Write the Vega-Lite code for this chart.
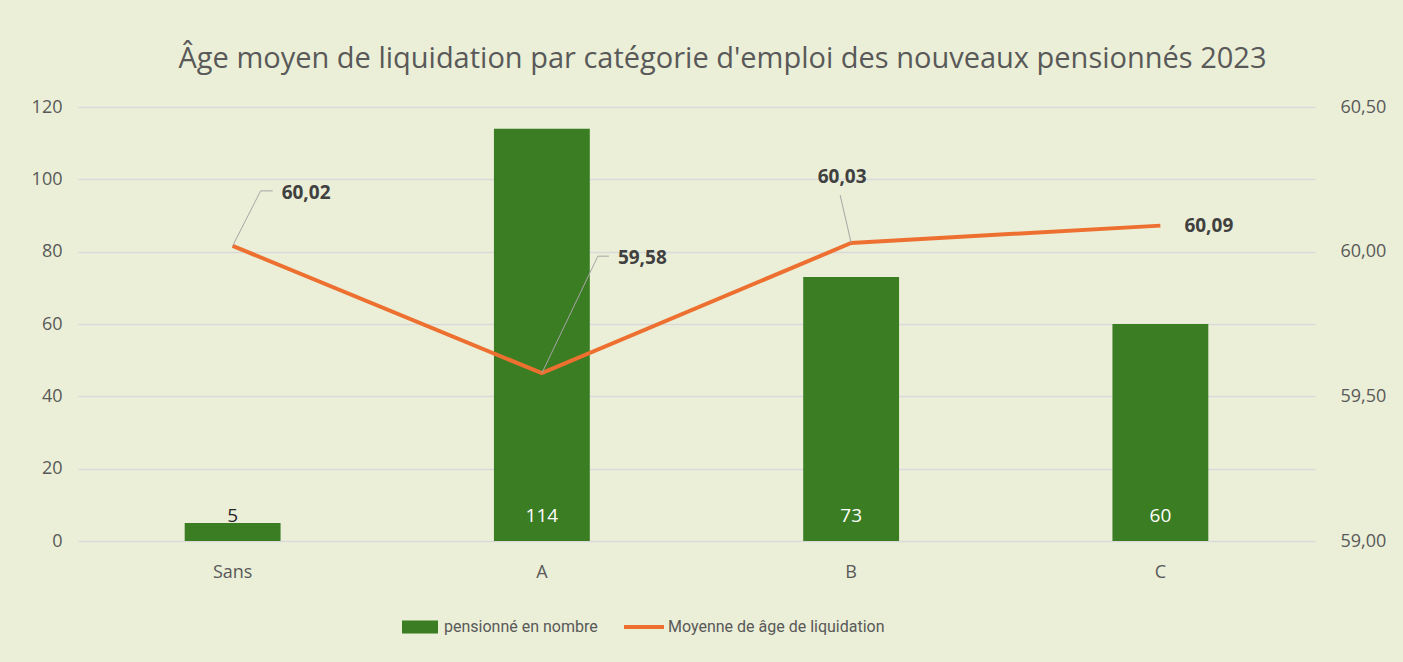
{
  "$schema": "https://vega.github.io/schema/vega-lite/v6.json",
  "width": 1237,
  "height": 434,
  "autosize": "none",
  "padding": {"left": 78, "top": 107, "right": 88, "bottom": 121},
  "background": "#ebefd7",
  "config": {
    "view": {"stroke": null},
    "font": "Open Sans",
    "locale": {"number": {"decimal": ",", "thousands": " ", "grouping": [3], "currency": ["", " €"]}}
  },
  "title": {
    "text": "Âge moyen de liquidation par catégorie d'emploi des nouveaux pensionnés 2023",
    "fontSize": 29,
    "font": "Open Sans",
    "fontWeight": "normal",
    "color": "#595959",
    "offset": 24,
    "dx": 26
  },
  "data": {
    "values": [
      {"cat": "Sans", "n": 5, "age": 60.02},
      {"cat": "A", "n": 114, "age": 59.58},
      {"cat": "B", "n": 73, "age": 60.03},
      {"cat": "C", "n": 60, "age": 60.09}
    ]
  },
  "encoding": {
    "x": {
      "field": "cat",
      "type": "nominal",
      "sort": ["Sans", "A", "B", "C"],
      "scale": {"paddingInner": 0.69, "paddingOuter": 0.345},
      "axis": {
        "title": null,
        "labelAngle": 0,
        "domain": false,
        "ticks": false,
        "labelPadding": 22,
        "labelFontSize": 18,
        "labelColor": "#595959",
        "labelFont": "Open Sans"
      }
    }
  },
  "layer": [
    {
      "layer": [
        {
          "mark": {"type": "bar"},
          "encoding": {
            "y": {
              "field": "n",
              "type": "quantitative",
              "scale": {"domain": [0, 120], "nice": false},
              "axis": {
                "title": null,
                "values": [0, 20, 40, 60, 80, 100, 120],
                "domain": false,
                "ticks": false,
                "labelPadding": 16,
                "labelFontSize": 18,
                "labelColor": "#595959",
                "gridColor": "#d9d9d9",
                "gridWidth": 1.5
              }
            },
            "color": {
              "datum": "pensionné en nombre",
              "type": "nominal",
              "scale": {
                "domain": ["pensionné en nombre", "Moyenne de âge de liquidation"],
                "range": ["#3b7d23", "#ed7031"]
              },
              "legend": {
                "title": null,
                "orient": "none",
                "legendX": 322,
                "legendY": 500,
                "direction": "horizontal",
                "labelFontSize": 16,
                "labelColor": "#595959",
                "labelFont": "'Liberation Sans Narrow', Roboto",
                "labelOffset": 4,
                "labelLimit": 0,
                "columnPadding": 26,
                "symbolSize": 1600,
                "encode": {
                  "symbols": {
                    "update": {
                      "shape": {"signal": "datum.value === 'pensionné en nombre' ? 'M-0.9,-0.33H0.9V0.33H-0.9Z' : 'M-1,-0.1H1V0.1H-1Z'"},
                      "fill": {"signal": "datum.value === 'pensionné en nombre' ? '#3b7d23' : '#ed7031'"},
                      "stroke": {"value": "transparent"},
                      "strokeWidth": {"value": 0},
                      "opacity": {"value": 1},
                      "fillOpacity": {"value": 1}
                    }
                  }
                }
              }
            }
          }
        },
        {
          "mark": {"type": "text", "fontSize": 19, "baseline": "middle", "dy": -25},
          "encoding": {
            "y": {"datum": 0, "type": "quantitative"},
            "text": {"field": "n", "type": "quantitative"},
            "color": {
              "condition": {"test": "datum.n > 10", "value": "#ffffff"},
              "value": "#262626"
            }
          }
        }
      ]
    },
    {
      "layer": [
        {
          "mark": {"type": "line", "strokeWidth": 4, "color": "#ed7031"},
          "encoding": {
            "y": {
              "field": "age",
              "type": "quantitative",
              "scale": {"domain": [59, 60.5], "zero": false, "nice": false},
              "axis": {
                "title": null,
                "orient": "right",
                "values": [59, 59.5, 60, 60.5],
                "format": ".2f",
                "grid": false,
                "domain": false,
                "ticks": false,
                "labelPadding": 25,
                "labelFontSize": 18,
                "labelColor": "#595959"
              }
            },
            "color": {"datum": "Moyenne de âge de liquidation", "type": "nominal"}
          }
        },
        {
          "transform": [{"filter": "datum.cat === 'Sans'"}],
          "mark": {"type": "rule", "color": "#a6a6a6", "strokeWidth": 1, "x2Offset": 28, "y2Offset": -55},
          "encoding": {
            "y": {"field": "age", "type": "quantitative"},
            "x2": {"field": "cat"},
            "y2": {"field": "age"}
          }
        },
        {
          "transform": [{"filter": "datum.cat === 'Sans'"}],
          "mark": {"type": "rule", "color": "#a6a6a6", "strokeWidth": 1, "xOffset": 28, "yOffset": -55, "x2Offset": 40, "y2Offset": -55},
          "encoding": {
            "y": {"field": "age", "type": "quantitative"},
            "x2": {"field": "cat"},
            "y2": {"field": "age"}
          }
        },
        {
          "transform": [{"filter": "datum.cat === 'A'"}],
          "mark": {"type": "rule", "color": "#a6a6a6", "strokeWidth": 1, "x2Offset": 56, "y2Offset": -117},
          "encoding": {
            "y": {"field": "age", "type": "quantitative"},
            "x2": {"field": "cat"},
            "y2": {"field": "age"}
          }
        },
        {
          "transform": [{"filter": "datum.cat === 'A'"}],
          "mark": {"type": "rule", "color": "#a6a6a6", "strokeWidth": 1, "xOffset": 56, "yOffset": -117, "x2Offset": 67, "y2Offset": -117},
          "encoding": {
            "y": {"field": "age", "type": "quantitative"},
            "x2": {"field": "cat"},
            "y2": {"field": "age"}
          }
        },
        {
          "transform": [{"filter": "datum.cat === 'B'"}],
          "mark": {"type": "rule", "color": "#a6a6a6", "strokeWidth": 1, "x2Offset": -11, "y2Offset": -48},
          "encoding": {
            "y": {"field": "age", "type": "quantitative"},
            "x2": {"field": "cat"},
            "y2": {"field": "age"}
          }
        },
        {
          "transform": [{"filter": "datum.cat === 'Sans'"}],
          "mark": {"type": "text", "fontSize": 19, "fontWeight": "bold", "color": "#404040", "align": "left", "baseline": "middle", "dx": 49, "dy": -53},
          "encoding": {
            "y": {"field": "age", "type": "quantitative"},
            "text": {"field": "age", "type": "quantitative", "format": ".2f"}
          }
        },
        {
          "transform": [{"filter": "datum.cat === 'A'"}],
          "mark": {"type": "text", "fontSize": 19, "fontWeight": "bold", "color": "#404040", "align": "left", "baseline": "middle", "dx": 76, "dy": -115},
          "encoding": {
            "y": {"field": "age", "type": "quantitative"},
            "text": {"field": "age", "type": "quantitative", "format": ".2f"}
          }
        },
        {
          "transform": [{"filter": "datum.cat === 'B'"}],
          "mark": {"type": "text", "fontSize": 19, "fontWeight": "bold", "color": "#404040", "align": "center", "baseline": "middle", "dx": -9, "dy": -66},
          "encoding": {
            "y": {"field": "age", "type": "quantitative"},
            "text": {"field": "age", "type": "quantitative", "format": ".2f"}
          }
        },
        {
          "transform": [{"filter": "datum.cat === 'C'"}],
          "mark": {"type": "text", "fontSize": 19, "fontWeight": "bold", "color": "#404040", "align": "left", "baseline": "middle", "dx": 24, "dy": 0},
          "encoding": {
            "y": {"field": "age", "type": "quantitative"},
            "text": {"field": "age", "type": "quantitative", "format": ".2f"}
          }
        }
      ]
    }
  ],
  "resolve": {"scale": {"y": "independent"}}
}
